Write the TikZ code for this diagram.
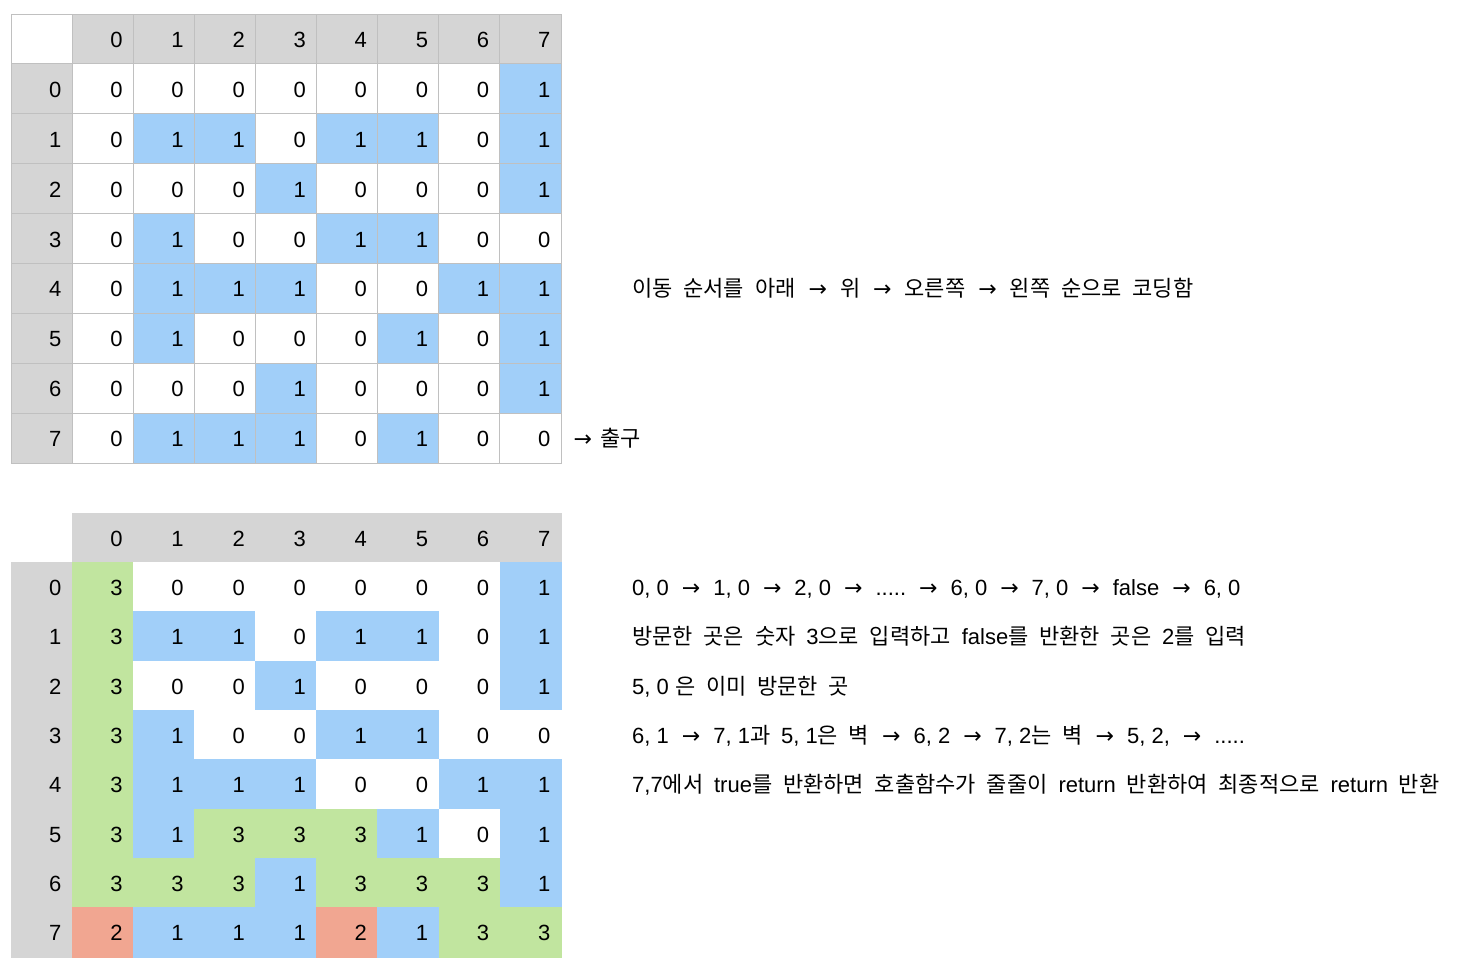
\documentclass[tikz,border=0pt]{standalone}
\usepackage{fontspec}
\setmainfont{Liberation Sans}
\newfontfamily\kr[WordSpace=2.2]{Noto Sans CJK KR}
\newfontfamily\arrfont{DejaVu Sans}
\newcommand\ar{\hspace{13pt}{\arrfont →}\hspace{13pt}}
\definecolor{hdr}{RGB}{213,213,213}
\definecolor{gridc}{RGB}{192,192,192}
\definecolor{c0}{RGB}{255,255,255}
\definecolor{c1}{RGB}{161,207,249}
\definecolor{c2}{RGB}{241,166,145}
\definecolor{c3}{RGB}{193,229,159}
\def\tw{61.111}
\def\th{49.889}
\def\bh{49.333}
\begin{document}
\begin{tikzpicture}[x=1pt,y=-1pt,
  tcell/.style={rectangle,draw=gridc,line width=1pt,inner sep=0pt,minimum width=61.111pt,minimum height=49.889pt},
  bcell/.style={rectangle,inner sep=0pt,minimum width=61.111pt,minimum height=49.333pt},
  num/.style={anchor=base east,inner sep=0pt,font=\fontsize{22}{26}\selectfont},
  txt/.style={anchor=base west,inner sep=0pt,font=\fontsize{22}{26}\selectfont}]
\useasboundingbox (0,0) rectangle (1478,970);
% ---------- top table ----------
\node[tcell,fill=white] (t-corner) at ({11+0.5*\tw},{14+0.5*\th}) {};
\foreach \c in {0,...,7}{
  \node[tcell,fill=hdr] (t-h-\c) at ({11+(\c+1.5)*\tw},{14+0.5*\th}) {};
  \node[num] (t-hl-\c) at ({11+(\c+2)*\tw-10.5},{14+0.5*\th+8.5}) {\c};
  \node[tcell,fill=hdr] (t-r-\c) at ({11+0.5*\tw},{14+(\c+1.5)*\th}) {};
  \node[num] (t-rl-\c) at ({11+\tw-10.5},{14+(\c+1.5)*\th+8.5}) {\c};
}
\foreach \r/\row in {0/{0,0,0,0,0,0,0,1},1/{0,1,1,0,1,1,0,1},2/{0,0,0,1,0,0,0,1},3/{0,1,0,0,1,1,0,0},4/{0,1,1,1,0,0,1,1},5/{0,1,0,0,0,1,0,1},6/{0,0,0,1,0,0,0,1},7/{0,1,1,1,0,1,0,0}}{
  \foreach \v [count=\c from 0] in \row {
    \node[tcell,fill=c\v] (t-\r-\c) at ({11+(\c+1.5)*\tw},{14+(\r+1.5)*\th}) {};
    \node[num] (t-l-\r-\c) at ({11+(\c+2)*\tw-10.5},{14+(\r+1.5)*\th+8.5}) {\v};
  }
}
% ---------- bottom table ----------
\foreach \c in {0,...,7}{
  \node[bcell,fill=hdr,draw=hdr,line width=0.4pt] (b-h-\c) at ({11+(\c+1.5)*\tw},{513+0.5*\bh}) {};
  \node[num] (b-hl-\c) at ({11+(\c+2)*\tw-10.5},{513+0.5*\bh+8.5}) {\c};
  \node[bcell,fill=hdr,draw=hdr,line width=0.4pt] (b-r-\c) at ({11+0.5*\tw},{513+(\c+1.5)*\bh}) {};
  \node[num] (b-rl-\c) at ({11+\tw-10.5},{513+(\c+1.5)*\bh+8.5}) {\c};
}
\foreach \r/\row in {0/{3,0,0,0,0,0,0,1},1/{3,1,1,0,1,1,0,1},2/{3,0,0,1,0,0,0,1},3/{3,1,0,0,1,1,0,0},4/{3,1,1,1,0,0,1,1},5/{3,1,3,3,3,1,0,1},6/{3,3,3,1,3,3,3,1},7/{2,1,1,1,2,1,3,3}}{
  \foreach \v [count=\c from 0] in \row {
    \node[bcell,fill=c\v,draw=c\v,line width=0.4pt] (b-\r-\c) at ({11+(\c+1.5)*\tw},{513+(\r+1.5)*\bh}) {};
    \node[num] (b-l-\r-\c) at ({11+(\c+2)*\tw-10.5},{513+(\r+1.5)*\bh+8.5}) {\v};
  }
}
% ---------- notes ----------
\node[txt] (note1) at (632,{14+5.5*\th+8.5}) {{\kr 이동 순서를 아래}\ar{\kr 위}\ar{\kr 오른쪽}\ar{\kr 왼쪽 순으로 코딩함}};
\node[txt] (exit) at (573.5,{14+8.5*\th+8.5}) {{\arrfont →}\hspace{8pt}{\kr 출구}};
\node[txt] (n1) at (632,{513+1.5*\bh+8.5}) {0, 0\ar 1, 0\ar 2, 0\ar .....\ar 6, 0\ar 7, 0\ar false\ar 6, 0};
\node[txt] (n2) at (632,{513+2.5*\bh+8.5}) {{\kr 방문한 곳은 숫자 }3{\kr 으로 입력하고 }false{\kr 를 반환한 곳은 }2{\kr 를 입력}};
\node[txt] (n3) at (632,{513+3.5*\bh+8.5}) {5, 0 {\kr 은 이미 방문한 곳}};
\node[txt] (n4) at (632,{513+4.5*\bh+8.5}) {6, 1\ar 7, 1{\kr 과 }5, 1{\kr 은 벽}\ar 6, 2\ar 7, 2{\kr 는 벽}\ar 5, 2,\ar .....};
\node[txt] (n5) at (632,{513+5.5*\bh+8.5}) {7,7{\kr 에서 }true{\kr 를 반환하면 호출함수가 줄줄이 }return{\kr{} 반환하여 최종적으로 }return{\kr{} 반환}};
\end{tikzpicture}
\end{document}
